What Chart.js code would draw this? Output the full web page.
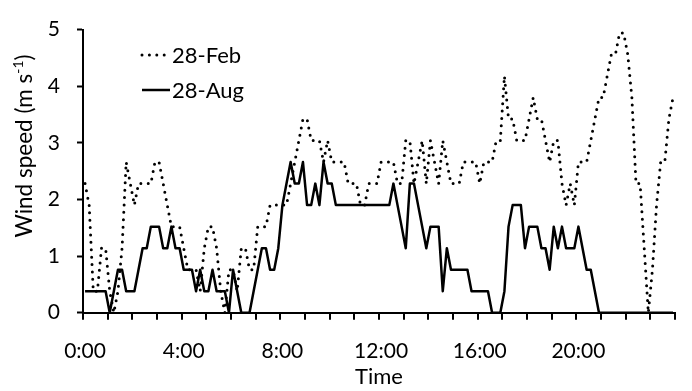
<!DOCTYPE html>
<html>
<head>
<meta charset="utf-8">
<script src="https://cdn.jsdelivr.net/npm/chart.js@4.4.1/dist/chart.umd.min.js"></script>
<style>
  html, body { margin: 0; padding: 0; background: #fff; }
  canvas { display: block; }
</style>
</head>
<body>
<canvas id="wind" width="692" height="391"></canvas>
<script>
// 10-minute slots over one day
const timeSlots = [];
for (let h = 0; h < 24; h++) {
  for (let m = 0; m < 60; m += 10) {
    timeSlots.push(h + ':' + String(m).padStart(2, '0'));
  }
}

// Hour labels shown under the time axis
const hourTicks = ['0:00', '4:00', '8:00', '12:00', '16:00', '20:00'];

// Wind speed, m/s, 28 February (one value per 10-minute slot)
const windFeb = [
  2.28, 1.9, 0.38, 0.38, 1.14, 1.14, 0.38, 0, 0.38, 1.14, 2.66, 2.28,
  1.9, 2.28, 2.28, 2.28, 2.28, 2.66, 2.66, 2.28, 1.9, 1.52, 1.52, 1.52,
  1.14, 0.76, 0.76, 0.76, 0.38, 1.14, 1.52, 1.52, 1.14, 0.38, 0, 0.76,
  0.76, 0.38, 1.14, 1.14, 0.76, 0.76, 1.52, 1.52, 1.52, 1.9, 1.9, 1.9,
  1.9, 1.9, 2.28, 2.66, 3.04, 3.42, 3.42, 3.04, 3.04, 3.04, 2.66, 3.04,
  2.66, 2.66, 2.66, 2.66, 2.28, 2.28, 2.28, 1.9, 1.9, 2.28, 2.28, 2.28,
  2.66, 2.66, 2.66, 2.66, 2.28, 2.28, 3.04, 3.04, 2.28, 2.66, 3.04, 2.28,
  3.04, 2.66, 2.28, 3.04, 2.66, 2.28, 2.28, 2.28, 2.66, 2.66, 2.66, 2.66,
  2.28, 2.66, 2.66, 2.66, 3.04, 3.04, 4.18, 3.42, 3.42, 3.04, 3.04, 3.04,
  3.42, 3.8, 3.42, 3.42, 3.04, 2.66, 3.04, 3.04, 2.28, 1.9, 2.28, 1.9,
  2.66, 2.66, 2.66, 3.04, 3.42, 3.8, 3.8, 4.18, 4.56, 4.56, 4.94, 4.94,
  4.56, 3.8, 2.28, 2.28, 1.14, 0, 0.76, 1.9, 2.66, 2.66, 3.42, 3.8
];

// Wind speed, m/s, 28 August
const windAug = [
  0.38, 0.38, 0.38, 0.38, 0.38, 0.38, 0, 0.38, 0.76, 0.76, 0.38, 0.38,
  0.38, 0.76, 1.14, 1.14, 1.52, 1.52, 1.52, 1.14, 1.14, 1.52, 1.14, 1.14,
  0.76, 0.76, 0.76, 0.38, 0.76, 0.38, 0.38, 0.76, 0.38, 0.38, 0.38, 0,
  0.76, 0.38, 0, 0, 0, 0.38, 0.76, 1.14, 1.14, 0.76, 0.76, 1.14,
  1.9, 2.28, 2.66, 2.28, 2.28, 2.66, 1.9, 1.9, 2.28, 1.9, 2.66, 2.28,
  2.28, 1.9, 1.9, 1.9, 1.9, 1.9, 1.9, 1.9, 1.9, 1.9, 1.9, 1.9,
  1.9, 1.9, 1.9, 2.28, 1.9, 1.52, 1.14, 2.28, 2.28, 1.9, 1.52, 1.14,
  1.52, 1.52, 1.52, 0.38, 1.14, 0.76, 0.76, 0.76, 0.76, 0.76, 0.38, 0.38,
  0.38, 0.38, 0.38, 0, 0, 0, 0.38, 1.52, 1.9, 1.9, 1.9, 1.14,
  1.52, 1.52, 1.52, 1.14, 1.14, 0.76, 1.52, 1.14, 1.52, 1.14, 1.14, 1.14,
  1.52, 1.14, 0.76, 0.76, 0.38, 0, 0, 0, 0, 0, 0, 0,
  0, 0, 0, 0, 0, 0, 0, 0, 0, 0, 0, 0
];

const seriesNames = ['28-Feb', '28-Aug'];

const FONT = 'Lato, "Open Sans", sans-serif';
Chart.defaults.color = '#000';
Chart.defaults.font.family = FONT;

// Legend drawn inside the plot, upper left
const insideLegend = {
  id: 'insideLegend',
  afterDraw(chart) {
    const ctx = chart.ctx;
    const rows = [55, 90];
    ctx.save();
    chart.data.datasets.forEach((ds, i) => {
      const y = rows[i];
      ctx.beginPath();
      ctx.lineWidth = ds.borderWidth;
      ctx.strokeStyle = ds.borderColor;
      ctx.lineCap = ds.borderCapStyle || 'butt';
      ctx.setLineDash(ds.borderDash || []);
      ctx.moveTo(142, y);
      ctx.lineTo(170, y);
      ctx.stroke();
      ctx.setLineDash([]);
      ctx.fillStyle = '#000';
      ctx.font = '22px ' + FONT;
      ctx.textAlign = 'left';
      ctx.textBaseline = 'middle';
      ctx.fillText(ds.label, 172, y + 1);
    });
    ctx.restore();
  }
};

// Vertical axis title with a superscript exponent
const yTitle = {
  id: 'yTitle',
  afterDraw(chart) {
    const ctx = chart.ctx;
    const main = '22.5px ' + FONT;
    const sup = '14px ' + FONT;
    const parts = [
      { t: 'Wind speed (m s', f: main, dy: 0 },
      { t: '-1', f: sup, dy: -9 },
      { t: ')', f: main, dy: 0 }
    ];
    let total = 0;
    parts.forEach(p => { ctx.font = p.f; p.w = ctx.measureText(p.t).width; total += p.w; });
    ctx.save();
    ctx.translate(32, 146);
    ctx.rotate(-Math.PI / 2);
    ctx.fillStyle = '#000';
    ctx.textBaseline = 'alphabetic';
    ctx.textAlign = 'left';
    let x = -total / 2;
    parts.forEach(p => {
      ctx.font = p.f;
      ctx.fillText(p.t, x, p.dy);
      x += p.w;
    });
    ctx.restore();
  }
};

new Chart(document.getElementById('wind'), {
  type: 'line',
  data: {
    labels: timeSlots,
    datasets: [
      {
        label: seriesNames[0],
        data: windFeb,
        borderColor: '#000',
        borderWidth: 3,
        borderDash: [0, 7.4],
        borderCapStyle: 'round',
        borderJoinStyle: 'round',
        pointRadius: 0,
        tension: 0,
        fill: false
      },
      {
        label: seriesNames[1],
        data: windAug,
        borderColor: '#000',
        borderWidth: 2.5,
        borderCapStyle: 'butt',
        borderJoinStyle: 'round',
        pointRadius: 0,
        tension: 0,
        fill: false
      }
    ]
  },
  options: {
    responsive: false,
    animation: false,
    events: [],
    layout: { padding: { top: 14, right: 2, left: 0, bottom: 0 } },
    plugins: {
      legend: { display: false },
      tooltip: { enabled: false }
    },
    scales: {
      x: {
        type: 'category',
        offset: true,
        grid: {
          offset: true,
          drawOnChartArea: false,
          drawTicks: true,
          tickLength: 7,
          tickWidth: 2,
          lineWidth: 2,
          tickColor: (c) => (c.index === undefined || c.index % 6 === 0) ? '#000' : 'rgba(0,0,0,0)',
          color: 'rgba(0,0,0,0)'
        },
        border: { display: true, color: '#000', width: 2 },
        ticks: {
          autoSkip: false,
          maxRotation: 0,
          minRotation: 0,
          padding: 19,
          color: '#000',
          font: { family: FONT, size: 21 },
          callback: function (val) {
            const l = this.getLabelForValue(val);
            return hourTicks.includes(l) ? l : '';
          }
        },
        title: {
          display: true,
          text: 'Time',
          color: '#000',
          font: { family: FONT, size: 22 },
          padding: { top: 0, bottom: 1 }
        },
        afterFit: (s) => { s.height = 78.3; }
      },
      y: {
        min: 0,
        max: 5,
        ticks: {
          stepSize: 1,
          padding: 17,
          color: '#000',
          font: { family: FONT, size: 21 }
        },
        grid: {
          drawOnChartArea: false,
          drawTicks: true,
          tickLength: 6,
          tickWidth: 2,
          tickColor: '#000',
          color: 'rgba(0,0,0,0)'
        },
        border: { display: true, color: '#000', width: 2 },
        afterFit: (s) => { s.width = 83; }
      }
    }
  },
  plugins: [insideLegend, yTitle]
});
</script>
</body>
</html>
